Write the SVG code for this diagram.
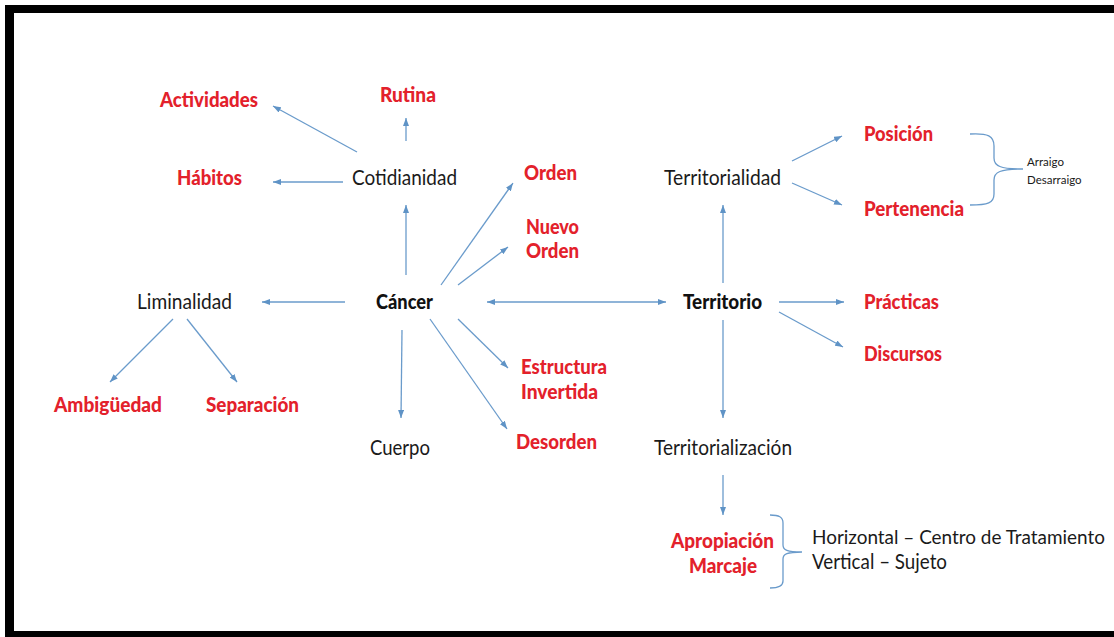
<svg xmlns="http://www.w3.org/2000/svg" width="1114" height="637" viewBox="0 0 1114 637">
<defs>
<marker id="ah" viewBox="0 0 8 6" refX="8" refY="3" markerWidth="8" markerHeight="6" markerUnits="userSpaceOnUse" orient="auto-start-reverse">
<path d="M0,0 L8,3 L0,6 Z" fill="#5f93c6"/>
</marker>
</defs>
<style>
.t{font-family:Lato,"Open Sans","DejaVu Sans",sans-serif;font-size:20.5px;fill:#1a1a1a}
.r{font-family:Lato,"Open Sans","DejaVu Sans",sans-serif;font-size:20.5px;font-weight:900;fill:#e3212b}
.b{font-family:Lato,"Open Sans","DejaVu Sans",sans-serif;font-size:20.5px;font-weight:900;fill:#111}
.s{font-family:Lato,"Open Sans","DejaVu Sans",sans-serif;font-size:11.5px;fill:#1a1a1a}
.c line{stroke:#6a9bcb;stroke-width:1.3;marker-end:url(#ah)}
.br{fill:none;stroke:#6a9bcb;stroke-width:1.3}
</style>
<rect x="5" y="5" width="1120" height="640" fill="#000"/>
<rect x="14" y="13" width="1110" height="618" fill="#fff"/>
<g class="c" id="connectors">
<line x1="357" y1="152" x2="273" y2="106"/>
<line x1="406" y1="141" x2="406" y2="118"/>
<line x1="343" y1="182" x2="273" y2="182"/>
<line x1="406" y1="275" x2="406" y2="205"/>
<line x1="441" y1="285" x2="513" y2="183"/>
<line x1="458" y1="285" x2="508" y2="247"/>
<line x1="487" y1="302" x2="666" y2="302" style="marker-start:url(#ah)"/>
<line x1="345" y1="302" x2="262" y2="302"/>
<line x1="173" y1="319" x2="110" y2="382"/>
<line x1="187" y1="319" x2="237" y2="382"/>
<line x1="402" y1="330" x2="401" y2="418"/>
<line x1="458" y1="319" x2="508" y2="368"/>
<line x1="430" y1="319" x2="507" y2="429"/>
<line x1="723" y1="283" x2="723" y2="205"/>
<line x1="723" y1="320" x2="723" y2="418"/>
<line x1="779" y1="302" x2="844" y2="302"/>
<line x1="779" y1="312" x2="843" y2="347"/>
<line x1="792" y1="161" x2="842" y2="136"/>
<line x1="792" y1="183" x2="842" y2="205"/>
<line x1="723" y1="475" x2="723" y2="515"/>
<path class="br" d="M970,134 C988,133 994,136 994,146 L994,158 C994,166 1000,169 1023,169 C1000,169 994,172 994,180 L994,194 C994,203 988,205 970,205"/>
<path class="br" d="M770,515 C779,515 783,517 783,523 L783,545 C783,550 787,552 802,552 C787,552 783,554 783,559 L783,581 C783,586 779,588 770,588"/>
</g>
<g id="n-actividades"><text class="r" x="160" y="107" textLength="98" lengthAdjust="spacingAndGlyphs">Actividades</text></g>
<g id="n-rutina"><text class="r" x="380" y="102" textLength="56" lengthAdjust="spacingAndGlyphs">Rutina</text></g>
<g id="n-habitos"><text class="r" x="177" y="185" textLength="65" lengthAdjust="spacingAndGlyphs">Hábitos</text></g>
<g id="n-cotidianidad"><text class="t" x="352" y="185" textLength="105" lengthAdjust="spacingAndGlyphs">Cotidianidad</text></g>
<g id="n-orden"><text class="r" x="524" y="180" textLength="53" lengthAdjust="spacingAndGlyphs">Orden</text></g>
<g id="n-nuevo-orden"><text class="r" x="526" y="234" textLength="53" lengthAdjust="spacingAndGlyphs">Nuevo</text><text class="r" x="526" y="258" textLength="53" lengthAdjust="spacingAndGlyphs">Orden</text></g>
<g id="n-territorialidad"><text class="t" x="664" y="185" textLength="117" lengthAdjust="spacingAndGlyphs">Territorialidad</text></g>
<g id="n-posicion"><text class="r" x="864" y="141" textLength="69" lengthAdjust="spacingAndGlyphs">Posición</text></g>
<g id="n-pertenencia"><text class="r" x="864" y="216" textLength="100" lengthAdjust="spacingAndGlyphs">Pertenencia</text></g>
<g id="n-arraigo"><text class="s" x="1027" y="166">Arraigo</text><text class="s" x="1027" y="184">Desarraigo</text></g>
<g id="n-liminalidad"><text class="t" x="137" y="309" textLength="95" lengthAdjust="spacingAndGlyphs">Liminalidad</text></g>
<g id="n-cancer"><text class="b" x="376" y="309" textLength="57" lengthAdjust="spacingAndGlyphs">Cáncer</text></g>
<g id="n-territorio"><text class="b" x="683" y="309" textLength="79" lengthAdjust="spacingAndGlyphs">Territorio</text></g>
<g id="n-practicas"><text class="r" x="864" y="309" textLength="75" lengthAdjust="spacingAndGlyphs">Prácticas</text></g>
<g id="n-discursos"><text class="r" x="864" y="361" textLength="78" lengthAdjust="spacingAndGlyphs">Discursos</text></g>
<g id="n-ambiguedad"><text class="r" x="54" y="412" textLength="108" lengthAdjust="spacingAndGlyphs">Ambigüedad</text></g>
<g id="n-separacion"><text class="r" x="206" y="412" textLength="93" lengthAdjust="spacingAndGlyphs">Separación</text></g>
<g id="n-estructura"><text class="r" x="521" y="374" textLength="86" lengthAdjust="spacingAndGlyphs">Estructura</text><text class="r" x="521" y="399" textLength="77" lengthAdjust="spacingAndGlyphs">Invertida</text></g>
<g id="n-cuerpo"><text class="t" x="370" y="455" textLength="60" lengthAdjust="spacingAndGlyphs">Cuerpo</text></g>
<g id="n-desorden"><text class="r" x="516" y="449" textLength="81" lengthAdjust="spacingAndGlyphs">Desorden</text></g>
<g id="n-territorializacion"><text class="t" x="654" y="455" textLength="138" lengthAdjust="spacingAndGlyphs">Territorialización</text></g>
<g id="n-apropiacion"><text class="r" x="671" y="548" textLength="103" lengthAdjust="spacingAndGlyphs">Apropiación</text><text class="r" x="689" y="573" textLength="68" lengthAdjust="spacingAndGlyphs">Marcaje</text></g>
<g id="n-horizontal"><text class="t" x="812" y="544" style="font-size:19.5px" textLength="293" lengthAdjust="spacingAndGlyphs">Horizontal – Centro de Tratamiento</text><text class="t" x="812" y="569" textLength="135" lengthAdjust="spacingAndGlyphs">Vertical – Sujeto</text></g>
</svg>
